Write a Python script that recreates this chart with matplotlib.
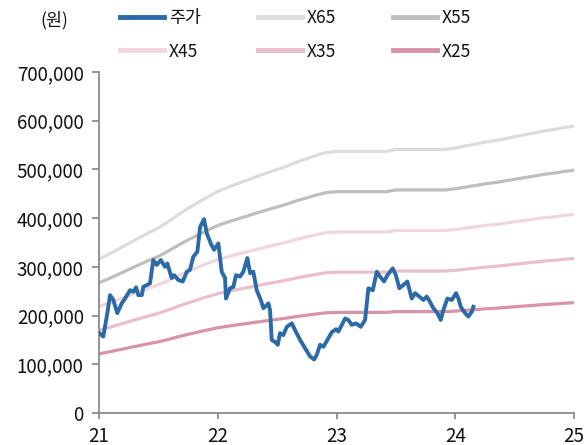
import matplotlib
matplotlib.use("Agg")
import matplotlib.pyplot as plt
import numpy as np

plt.rcParams['font.family'] = ['Noto Sans CJK KR', 'DejaVu Sans']

# 월별 EPS 추정치 (원), 2021.01 ~ 2025.01
eps = [4860, 5015, 5185, 5355, 5525, 5690, 5845, 6045, 6260, 6460, 6645, 6830,
       7000, 7125, 7245, 7355, 7475, 7585, 7690, 7800, 7925, 8030, 8140, 8230,
       8260, 8260, 8260, 8260, 8260, 8260, 8325, 8325, 8325, 8325, 8325, 8325,
       8370, 8430, 8490, 8555, 8600, 8660, 8725, 8785, 8845, 8910, 8955, 9015,
       9060]
eps_t = [21 + m / 12 for m in range(len(eps))]

multiples = [65, 55, 45, 35, 25]
band_labels = ["X65", "X55", "X45", "X35", "X25"]
band_colors = ["#dcdcdc", "#bebebe", "#f0d6de", "#e9bfcb", "#d993a8"]

# 주가
price_t = [21.003, 21.036, 21.065, 21.093, 21.120, 21.154, 21.191, 21.219, 21.261, 21.289,
           21.312, 21.331, 21.360, 21.373, 21.429, 21.457, 21.486, 21.520, 21.556, 21.575,
           21.612, 21.632, 21.668, 21.705, 21.739, 21.766, 21.794, 21.828, 21.851, 21.884,
           21.907, 21.941, 21.968, 22.005, 22.033, 22.061, 22.069, 22.103, 22.131, 22.154,
           22.187, 22.215, 22.249, 22.272, 22.299, 22.328, 22.362, 22.384, 22.426, 22.440,
           22.454, 22.482, 22.505, 22.524, 22.552, 22.581, 22.623, 22.651, 22.693, 22.735,
           22.777, 22.811, 22.833, 22.861, 22.889, 22.923, 22.960, 22.996, 23.015, 23.072,
           23.099, 23.128, 23.164, 23.204, 23.240, 23.268, 23.305, 23.339, 23.366, 23.400,
           23.428, 23.473, 23.499, 23.529, 23.563, 23.596, 23.633, 23.661, 23.697, 23.731,
           23.760, 23.787, 23.815, 23.849, 23.877, 23.899, 23.933, 23.970, 24.006, 24.026,
           24.046, 24.082, 24.110, 24.139, 24.152]
price = [164000, 157000, 198000, 242000, 232000, 205000, 225000, 235000, 252000, 249000,
         258000, 242000, 242000, 259000, 266000, 314000, 304000, 314000, 300000, 307000,
         277000, 283000, 273000, 270000, 290000, 294000, 321000, 331000, 382000, 398000,
         369000, 348000, 335000, 348000, 290000, 277000, 235000, 256000, 259000, 283000,
         280000, 290000, 318000, 287000, 290000, 252000, 232000, 215000, 225000, 211000,
         150000, 146000, 140000, 164000, 160000, 177000, 184000, 170000, 150000, 133000,
         116000, 110000, 119000, 140000, 136000, 150000, 166000, 172000, 167000, 194000,
         191000, 181000, 184000, 177000, 191000, 256000, 252000, 290000, 280000, 270000,
         283000, 297000, 283000, 256000, 263000, 270000, 235000, 246000, 239000, 232000,
         239000, 228000, 215000, 205000, 191000, 211000, 235000, 232000, 246000, 235000,
         218000, 205000, 198000, 208000, 218000]

fig = plt.figure(figsize=(5.87, 4.45), dpi=100)
ax = fig.add_axes([0.1687, 0.0719, 0.8093, 0.7663])

ax.plot(price_t, price, color="#2b6aa6", lw=2.8, label="주가", zorder=5)
lines = {}
for mult, lab, col in zip(multiples, band_labels, band_colors):
    vals = [e * mult for e in eps]
    lines[lab], = ax.plot(eps_t, vals, color=col, lw=2.3, label=lab)

ax.set_xlim(21, 25)
ax.set_ylim(0, 700000)
ax.set_xticks([21, 22, 23, 24, 25])
ax.set_xticklabels(["21", "22", "23", "24", "25"])
ax.set_yticks(np.arange(0, 700001, 100000))
ax.yaxis.set_major_formatter(matplotlib.ticker.FuncFormatter(lambda v, p: f"{int(v):,}"))

for s in ["top", "right"]:
    ax.spines[s].set_visible(False)
for s in ["left", "bottom"]:
    ax.spines[s].set_color("#8c8c8c")
    ax.spines[s].set_linewidth(1.3)
ax.tick_params(axis="both", colors="#8c8c8c", labelcolor="#111111", labelsize=13.5, width=1.3)
ax.tick_params(axis="y", length=5, pad=6)
ax.tick_params(axis="x", length=4, pad=5)

handles = [ax.lines[0], lines["X45"], lines["X65"], lines["X35"], lines["X55"], lines["X25"]]
labels = ["주가", "X45", "X65", "X35", "X55", "X25"]
fig.legend(handles, labels, ncol=3, loc="upper left", bbox_to_anchor=(0.178, 1.015),
           frameon=False, fontsize=12.5, handlelength=2.55, handletextpad=0.25,
           columnspacing=3.3, labelspacing=0.9, labelcolor="#111111")
for h in fig.legends[0].legend_handles:
    h.set_linewidth(3.5)

fig.text(0.068, 0.955, "(원)", fontsize=12.5, color="#111111", va="center")

fig.savefig("out.png", dpi=100)
